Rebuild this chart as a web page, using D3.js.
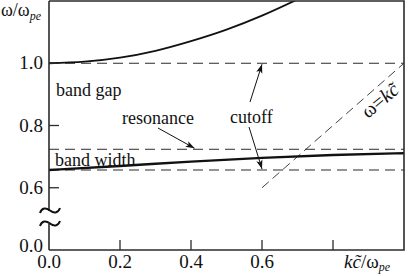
<!DOCTYPE html>
<html>
<head>
<meta charset="utf-8">
<script src="https://cdn.jsdelivr.net/npm/d3@7"></script>
<style>
  body { margin: 0; background: #fff; }
  svg text { font-family: "Liberation Serif", "Times New Roman", serif; fill: #111; }
</style>
</head>
<body>
<svg width="409" height="276"></svg>
<script>
const svg = d3.select("svg");

// values
const upperK = [0, 0.1, 0.2, 0.3, 0.4, 0.5, 0.6, 0.7];
const upperW = [1.0, 1.005, 1.018, 1.04, 1.071, 1.108, 1.153, 1.205];
const lowerK = [0, 0.2, 0.4, 0.6, 0.8, 1.0];
const lowerW = [0.657, 0.670, 0.684, 0.696, 0.705, 0.711];
const lightK = [0.6, 1.0];           // omega = k c~
const cutoffLevels = [1.0, 0.657];
const resonanceLevel = 0.7236;
const xTicks = [0.2, 0.4, 0.6, 0.8];
const xTickLabels = ["0.0", "0.2", "0.4", "0.6"];
const yTicks = [0.6, 0.8, 1.0];
const yBreakValue = 0.4, yBreakLabel = "0.0";

const x = d3.scaleLinear().domain([0, 1]).range([49, 404]);
const y = d3.scaleLinear().domain([0.4, 1.2]).range([250, 1]);

const ink = "#2b2b2b";

svg.append("defs").append("marker")
    .attr("id", "arr")
    .attr("viewBox", "0 0 10 10")
    .attr("refX", 10).attr("refY", 5)
    .attr("markerWidth", 9).attr("markerHeight", 9)
    .attr("markerUnits", "userSpaceOnUse")
    .attr("orient", "auto")
  .append("path")
    .attr("d", "M0,1.5 L10,5 L0,8.5 L2.5,5 Z")
    .attr("fill", "#111");

svg.append("clipPath").attr("id", "plot")
  .append("rect").attr("x", x(0)).attr("y", y(1.2))
    .attr("width", x(1) - x(0)).attr("height", y(0.4) - y(1.2));

const plot = svg.append("g").attr("clip-path", "url(#plot)");

// dashed reference levels
plot.selectAll("line.level")
  .data(cutoffLevels.concat([resonanceLevel]))
  .join("line")
    .attr("class", "level")
    .attr("x1", x(0)).attr("x2", x(1))
    .attr("y1", d => y(d)).attr("y2", d => y(d))
    .attr("stroke", ink).attr("stroke-width", 1)
    .attr("stroke-dasharray", "10,6");

// light line
plot.append("line")
    .attr("x1", x(lightK[0])).attr("y1", y(lightK[0]))
    .attr("x2", x(lightK[1])).attr("y2", y(lightK[1]))
    .attr("stroke", ink).attr("stroke-width", 0.9)
    .attr("stroke-dasharray", "9,5");

const line = d3.line().curve(d3.curveMonotoneX);

plot.append("path")
    .attr("d", line(upperK.map((k, i) => [x(k), y(upperW[i])])))
    .attr("fill", "none").attr("stroke", "#111").attr("stroke-width", 1.8);

plot.append("path")
    .attr("d", line(lowerK.map((k, i) => [x(k), y(lowerW[i])])))
    .attr("fill", "none").attr("stroke", "#111").attr("stroke-width", 2.4);

// frame
const frame = svg.append("g").attr("stroke", ink).attr("stroke-width", 1.6).attr("fill", "none");
frame.append("path").attr("d", `M${x(0)},${y(1.2)} H${x(1)} V${y(0.4)} H${x(0)}`);
frame.append("line").attr("x1", x(0)).attr("x2", x(0)).attr("y1", y(1.2)).attr("y2", 211);
frame.append("line").attr("x1", x(0)).attr("x2", x(0)).attr("y1", 224).attr("y2", y(0.4));

// axis break tildes
[210.5, 223.5].forEach(cy => {
  const x0 = x(0);
  frame.append("path")
    .attr("d", `M${x0 - 9},${cy + 2.5} C${x0 - 7},${cy - 3} ${x0 - 3},${cy - 3} ${x0 + 1},${cy} S${x0 + 9},${cy + 3} ${x0 + 11},${cy - 2.5}`)
    .attr("stroke", "#111").attr("stroke-width", 2);
});

// ticks
svg.selectAll("line.xt").data(xTicks).join("line")
    .attr("x1", d => x(d)).attr("x2", d => x(d))
    .attr("y1", y(0.4)).attr("y2", y(0.4) - 10)
    .attr("stroke", ink).attr("stroke-width", 1.3);
svg.selectAll("line.yt").data(yTicks).join("line")
    .attr("x1", x(0)).attr("x2", x(0) + 10)
    .attr("y1", d => y(d)).attr("y2", d => y(d))
    .attr("stroke", ink).attr("stroke-width", 1.3);

// tick labels
svg.selectAll("text.xl").data(xTickLabels).join("text")
    .attr("x", d => x(+d)).attr("y", 268)
    .attr("text-anchor", "middle").attr("font-size", 19)
    .text(d => d);
svg.selectAll("text.yl").data(yTicks.map(v => [v, v.toFixed(1), 6]).concat([[yBreakValue, yBreakLabel, 2]]))
  .join("text")
    .attr("x", 43).attr("y", d => y(d[0]) + d[2])
    .attr("text-anchor", "end").attr("font-size", 19)
    .text(d => d[1]);

// axis titles
const yt = svg.append("text").attr("x", 1).attr("y", 16).attr("font-size", 18);
yt.append("tspan").text("ω/ω");
yt.append("tspan").attr("font-size", 12).attr("font-style", "italic").attr("dy", 4).text("pe");

const xt = svg.append("text").attr("x", 344).attr("y", 268).attr("font-size", 19);
xt.append("tspan").attr("font-style", "italic").text("kc\u0303");
xt.append("tspan").text("/ω");
xt.append("tspan").attr("font-size", 12).attr("font-style", "italic").attr("dy", 3).text("pe");

// annotations
const note = (t, px, py) => svg.append("text").attr("x", px).attr("y", py).attr("font-size", 18).text(t);
note("band gap", 56, 96);
note("band width", 55, 166);
note("resonance", 122, 124);
note("cutoff", 230, 123);

const arrow = (x1, y1, x2, y2) => svg.append("line")
    .attr("x1", x1).attr("y1", y1).attr("x2", x2).attr("y2", y2)
    .attr("stroke", "#111").attr("stroke-width", 1)
    .attr("marker-end", "url(#arr)");
arrow(158, 128, x(0.41), y(resonanceLevel) - 1);
arrow(250, 102, x(0.6), y(1.0) + 1);
arrow(249, 127, x(0.6), y(0.657) - 1);

const lt = svg.append("text")
    .attr("transform", `translate(368,119) rotate(-40)`)
    .attr("font-size", 20);
lt.append("tspan").text("ω=");
lt.append("tspan").attr("font-style", "italic").text("kc\u0303");
</script>
</body>
</html>
